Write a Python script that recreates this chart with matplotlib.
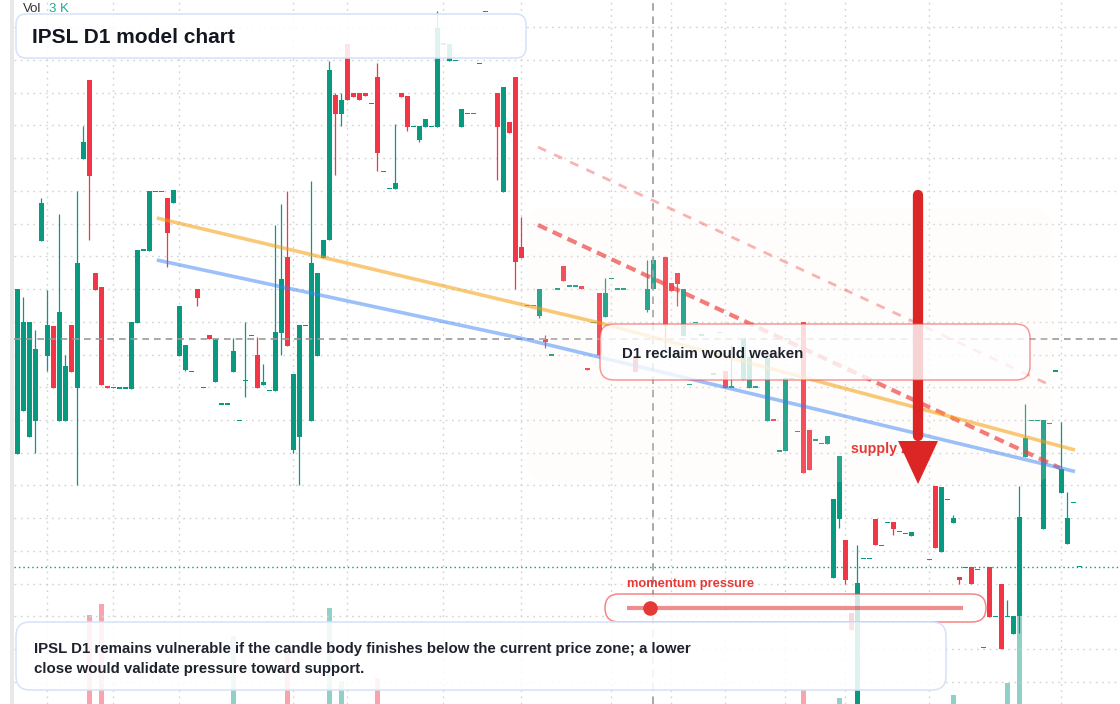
import numpy as np
import matplotlib
matplotlib.use("Agg")
import matplotlib.pyplot as plt
from matplotlib.patches import FancyBboxPatch, Polygon, Rectangle
from matplotlib.transforms import IdentityTransform

plt.rcParams['font.family'] = ['Liberation Sans', 'DejaVu Sans']

nan = np.nan
# daily candles (price units), nan = not shown
opens = [34.63, 38.93, 36.33, 37.93, 55.93, 44.43, 47.4, 37.93, 37.93, 47.5,
         41.23, 64.13, 72.0, 52.7, 51.3, 41.43, 41.35, 41.2, 41.2, 41.13,
         47.73, 55.0, 54.93, 60.87, 60.87, 60.2, 59.73, 44.43, 43.03, 42.87,
         51.1, 41.27, 46.5, 41.83, 39.6, 39.6, 42.83, 37.97, 41.93, 46.47,
         44.5, 41.53, 40.97, 40.93, 46.73, 54.3, 35.0, 36.33, 47.47, 37.93,
         44.43, 54.23, 56.0, 70.5, 68.63, 75.6, 70.67, 70.67, 70.67, 69.67,
         72.3, 62.87, 61.17, 61.13, 70.67, 70.4, 67.37, 66.0, 67.33, 67.37,
         67.33, 75.6, 73.93, 73.97, 67.33, 68.67, 68.67, 73.67, 78.87, nan,
         70.7, 60.83, 67.8, 72.3, 55.33, 49.47, 49.47, 48.4, 46.13, 44.5,
         51.1, 53.4, 51.4, 51.4, 51.4, 43.17, 47.77, 50.67, 48.33, 52.17,
         51.1, 51.1, nan, 44.33, nan, 49.0, 51.07, nan, 54.27, 51.67,
         52.67, 46.4, 41.57, 47.77, 46.5, nan, 42.6, 46.73, 42.9, 41.3,
         nan, 42.0, 41.23, 41.3, nan, 37.93, 38.0, 34.9, 34.93, 42.17,
         36.87, 47.77, 37.0, 36.0, 35.67, 35.63, 22.23, 28.13, 26.0, 18.7,
         8.0, 24.17, 24.17, 28.1, 25.47, 27.77, 27.77, 26.87, 26.67, 26.43,
         nan, nan, 24.07, 31.4, 24.83, 30.07, 27.73, 22.3, 23.27, 23.27,
         23.07, 15.27, 23.27, 18.37, 21.63, 18.37, 16.63, 18.37, 34.33, 37.97,
         37.97, 27.13, 37.67, 42.9, 30.73, 25.6, 29.77, 23.33]
highs = [51.1, 50.3, 47.8, 47.0, 60.2, 51.0, 47.4, 58.6, 44.5, 47.5,
         60.87, 67.4, 72.0, 52.7, 51.3, 41.43, 41.35, 41.2, 41.2, 47.8,
         55.0, 55.0, 60.87, 60.87, 60.87, 60.2, 61.0, 49.4, 45.5, 42.87,
         51.1, 41.27, 46.5, 46.13, 39.6, 39.6, 46.17, 37.97, 47.8, 46.47,
         46.33, 43.6, 40.97, 57.5, 59.6, 60.9, 42.6, 47.47, 47.47, 61.9,
         52.7, 56.0, 73.9, 70.67, 70.67, 75.6, 70.67, 70.67, 70.67, 69.67,
         73.7, 62.87, 61.17, 67.6, 70.67, 70.4, 67.37, 67.37, 68.1, 67.37,
         78.9, 75.6, 75.6, 73.97, 69.1, 68.67, 68.67, 73.67, 78.87, nan,
         70.7, 71.3, 67.8, 72.3, 58.33, 49.47, 49.47, 51.1, 46.5, 44.5,
         51.1, 53.4, 51.4, 51.4, 51.4, 43.17, 47.77, 50.67, 52.17, 52.17,
         51.1, 51.1, nan, 44.33, nan, 54.0, 54.4, nan, 54.27, 51.67,
         52.67, 51.1, 41.57, 47.77, 46.5, nan, 42.6, 46.73, 42.9, 45.5,
         nan, 46.17, 44.33, 41.3, nan, 44.2, 38.0, 34.9, 42.17, 42.17,
         36.87, 47.77, 37.0, 36.0, 35.67, 36.4, 30.1, 34.4, 26.0, 18.7,
         25.5, 24.17, 24.17, 28.1, 25.47, 27.77, 27.77, 26.87, 26.67, 26.8,
         nan, nan, 24.07, 31.4, 31.3, 30.07, 28.5, 22.3, 23.27, 23.27,
         23.07, 15.27, 23.27, 18.37, 21.63, 20.0, 18.4, 31.4, 39.6, 37.97,
         37.97, 37.97, 37.67, 42.9, 37.77, 30.83, 29.77, 23.33]
lows = [34.63, 38.93, 36.33, 34.73, 55.93, 42.93, 41.23, 37.93, 37.93, 42.83,
        31.5, 64.13, 56.0, 51.0, 41.5, 41.23, 41.2, 41.2, 41.2, 41.13,
        47.73, 55.0, 54.93, 60.87, 60.87, 53.33, 59.73, 44.43, 42.93, 42.87,
        49.43, 41.27, 46.13, 41.83, 39.6, 39.6, 42.83, 37.97, 40.33, 46.47,
        41.23, 41.53, 40.97, 40.93, 44.5, 45.4, 34.73, 31.5, 47.47, 37.93,
        44.43, 54.23, 56.0, 62.5, 67.4, 70.0, 70.33, 70.0, 70.4, 69.67,
        62.93, 62.87, 61.17, 61.13, 70.33, 66.93, 67.37, 65.83, 67.33, 67.37,
        67.33, 75.6, 73.93, 73.97, 67.33, 68.67, 68.67, 73.67, 78.87, nan,
        62.0, 60.83, 66.73, 51.1, 54.23, 49.47, 49.47, 48.17, 45.25, 44.5,
        51.1, 51.93, 51.4, 51.4, 51.07, 43.0, 47.77, 44.53, 48.33, 52.17,
        51.1, 51.1, nan, 42.83, nan, 48.77, 51.07, nan, 45.0, 50.93,
        49.43, 46.4, 41.57, 47.77, 46.5, nan, 42.6, 46.73, 41.23, 41.3,
        nan, 42.0, 41.23, 41.3, nan, 37.93, 37.97, 34.9, 34.93, 42.17,
        36.87, 32.73, 33.0, 36.0, 35.67, 35.63, 22.23, 27.23, 21.63, 17.0,
        8.0, 24.17, 24.17, 25.5, 25.47, 27.77, 26.53, 26.87, 26.67, 26.43,
        nan, nan, 24.07, 25.23, 24.83, 30.07, 27.73, 21.63, 23.27, 21.57,
        23.07, 15.27, 18.33, 18.37, 15.07, 18.37, 16.63, 16.73, 34.33, 37.97,
        37.97, 27.13, 37.67, 42.9, 30.73, 25.6, 29.77, 23.33]
closes = [51.1, 47.8, 47.8, 45.1, 59.7, 47.5, 41.23, 48.8, 43.4, 42.83,
          53.7, 65.8, 62.43, 51.0, 41.5, 41.23, 41.2, 41.2, 41.2, 47.8,
          55.0, 55.0, 60.87, 60.87, 60.87, 56.73, 61.0, 49.4, 45.5, 42.87,
          50.23, 41.27, 46.13, 46.13, 39.6, 39.6, 44.9, 37.97, 41.93, 46.47,
          41.23, 41.8, 40.97, 46.8, 52.1, 45.4, 42.6, 47.47, 47.47, 53.7,
          52.7, 56.0, 73.0, 68.63, 70.0, 70.0, 70.33, 70.0, 70.4, 69.67,
          64.73, 62.87, 61.17, 61.7, 70.33, 67.33, 67.37, 67.37, 68.1, 67.37,
          77.23, 75.6, 75.6, 73.97, 69.1, 68.67, 68.67, 73.67, 78.87, nan,
          67.33, 71.3, 66.73, 53.83, 54.23, 49.47, 49.47, 51.1, 45.83, 44.5,
          51.1, 51.93, 51.4, 51.4, 51.07, 43.0, 47.77, 44.53, 50.67, 52.17,
          51.1, 51.1, nan, 42.83, nan, 51.1, 54.0, nan, 47.5, 50.93,
          51.6, 51.1, 41.57, 47.77, 46.5, nan, 42.6, 46.73, 41.23, 41.3,
          nan, 46.17, 44.33, 41.3, nan, 44.2, 37.97, 34.9, 42.17, 42.17,
          36.87, 32.73, 33.0, 36.0, 35.67, 36.4, 30.1, 34.4, 21.97, 17.0,
          21.7, 24.17, 24.17, 25.5, 25.47, 27.77, 27.13, 26.87, 26.67, 26.8,
          nan, nan, 24.07, 25.23, 31.3, 30.07, 28.23, 21.97, 23.27, 21.57,
          23.07, 15.27, 18.33, 18.37, 15.07, 18.37, 18.4, 28.3, 36.23, 37.97,
          37.97, 37.97, 37.67, 42.9, 33.1, 28.17, 29.77, 23.33]

# volume (K) for the bars that reach into view
vol_idx = [12, 14, 36, 45, 52, 54, 60, 131, 137, 140, 156, 165, 167]
vol_k = [2.54, 2.86, 1.94, 1.46, 2.74, 0.66, 0.75, 0.40, 0.17, 2.97, 0.26, 0.61, 2.51]

month_idx = [5, 16, 27, 46, 55, 71, 84, 99, 109, 118, 128, 138, 152, 174]
last_price = 46.15
support_price = 23.33
cross_idx = 106

orange_x = [23.25, 97.12, 176.28]
orange_y = [58.2, 47.7, 35.0]
blue_x = [23.25, 83.78, 176.28]
blue_y = [54.0, 46.2, 32.85]
red_x = [86.78, 173.78]
red_y = [57.5, 33.2]
pink_x = [86.78, 172.45]
pink_y = [65.3, 41.4]
zone_x = [84.95, 172.45]
zone_y = [31.8, 59.2]
arrow_i = 150.12
arrow_top, arrow_base, arrow_tip = 60.5, 35.9, 31.6
momentum_x = [101.62, 157.62]
momentum_y = 19.2
momentum_knob = 105.45

UP = '#089981'
DN = '#f23645'
W, H = 1120, 704

fig = plt.figure(figsize=(W / 100, H / 100), dpi=100)
pos = [14 / W, 0, 1 - 14 / W, 1]
axv = fig.add_axes(pos)
ax = fig.add_axes(pos)
ax.patch.set_visible(False)
for a in (ax, axv):
    a.set_xlim(-0.55, 183.78)
    a.axis('off')
ax.set_ylim(9.6, 80.0)
axv.set_ylim(0, H / 35)

fig.patches.append(Rectangle((10, 0), 4, H, transform=IdentityTransform(),
                             facecolor='#e8e8e8', edgecolor='none'))

# grid
for k in range(22):
    ax.axhline(77.27 - 3.272 * k, color='#d4d4d4', lw=1.0, ls=(0, (1.3, 3.2)), zorder=0.5)
for m in month_idx:
    ax.axvline(m, color='#d4d4d4', lw=1.0, ls=(0, (1.3, 3.2)), zorder=0.5)

# volume
vcol = [UP if closes[i] >= opens[i] else DN for i in vol_idx]
axv.bar(vol_idx, vol_k, width=0.8, color=vcol, alpha=0.45, lw=0)

# candles
o = np.array(opens); h = np.array(highs); l = np.array(lows); c = np.array(closes)
ok = ~np.isnan(o)
xs = np.arange(len(o))[ok]
o, h, l, c = o[ok], h[ok], l[ok], c[ok]
cols = np.where(c >= o, UP, DN)
ax.vlines(xs, l, h, colors=cols, lw=0.9, zorder=2)
bot = np.minimum(o, c)
hgt = np.abs(c - o)
thin = hgt < 0.14
bot = np.where(thin, (o + c) / 2 - 0.07, bot)
hgt = np.where(thin, 0.14, hgt)
ax.bar(xs, hgt, bottom=bot, width=0.8, color=cols, lw=0, zorder=2.5)

# reference lines
ax.axhline(last_price, color='#9a9a9a', lw=1.2, ls=(0, (4, 3)), zorder=3)
ax.axhline(support_price, color=UP, lw=1.0, ls=(0, (1, 2.2)), zorder=3)
ax.axvline(cross_idx, color='#9a9a9a', lw=1.2, ls=(0, (4.5, 3.5)), zorder=3)

# zone
ax.add_patch(FancyBboxPatch((zone_x[0], zone_y[0]), zone_x[1] - zone_x[0], zone_y[1] - zone_y[0],
                            boxstyle="round,pad=0,rounding_size=3.3", mutation_aspect=0.6,
                            facecolor='#fff1e4', alpha=0.14, edgecolor='none', zorder=3.2))

ax.plot(pink_x, pink_y, color='#ef4444', alpha=0.4, lw=2.0, ls=(0, (3.2, 3.2)), zorder=4)
ax.plot(red_x, red_y, color='#ef4444', alpha=0.7, lw=3.0, ls=(0, (2.4, 1.5)), zorder=4)
ax.plot(orange_x, orange_y, color='#f59e0b', alpha=0.55, lw=2.6, solid_capstyle='butt', zorder=4)
ax.plot(blue_x, blue_y, color='#3b82f6', alpha=0.5, lw=2.6, solid_capstyle='butt', zorder=4)

ax.text(138.95, 35.05, 'supply zone', color='#e53935', fontsize=10.3, fontweight='bold',
        va='center', ha='left', zorder=4.5)
ax.plot([arrow_i, arrow_i], [arrow_top, arrow_base + 0.5], color='#dc2626', lw=7.4,
        solid_capstyle='round', zorder=5)
ax.add_patch(Polygon([(arrow_i - 3.33, arrow_base), (arrow_i + 3.33, arrow_base), (arrow_i, arrow_tip)],
                     closed=True, facecolor='#dc2626', edgecolor='none', zorder=5))


def px_box(x0, y0, x1, y1, r, alpha, ec, lw=1.1, z=6):
    p = FancyBboxPatch((x0, H - y1), x1 - x0, y1 - y0, boxstyle=f"round,pad=0,rounding_size={r}",
                       transform=IdentityTransform(), facecolor=(1, 1, 1, alpha),
                       edgecolor=ec, linewidth=lw, zorder=z)
    ax.add_patch(p)


def px_text(x, y, s, **kw):
    # small nudge: matplotlib centres on the full glyph box incl. descenders
    ax.text(x, H - y - 1.5, s, transform=IdentityTransform(), va='center', ha='left', zorder=7, **kw)


# D1 box
px_box(600, 324, 1030, 380, 14, 0.8, (0.94, 0.27, 0.27, 0.55), lw=1.1)
px_text(622, 353, 'D1 reclaim would weaken', fontsize=10.8, fontweight='bold', color='#1e222d')

# momentum pill
px_text(627, 583, 'momentum pressure', fontsize=9.3, fontweight='bold', color='#e53935')
px_box(605, 594, 986, 622, 14, 0.8, (0.94, 0.27, 0.27, 0.65), lw=1.1)
ax.plot(momentum_x, [momentum_y, momentum_y], color='#e03131', alpha=0.55, lw=3.0,
        solid_capstyle='butt', zorder=6.5)
ax.plot([momentum_knob], [momentum_y], 'o', ms=10.5, color='#e53935', mec='none', zorder=6.7)

# bottom note
px_box(16, 622, 946, 690, 14, 0.88, '#d5e2fa', lw=1.1)
px_text(34, 648, 'IPSL D1 remains vulnerable if the candle body finishes below the current price zone; a lower',
        fontsize=10.8, fontweight='bold', color='#1e222d')
px_text(34, 668, 'close would validate pressure toward support.',
        fontsize=10.8, fontweight='bold', color='#1e222d')

# title
px_box(16, 14, 526, 58, 10, 0.88, '#d5e2fa', lw=1.1)
px_text(32, 36, 'IPSL D1 model chart', fontsize=15, fontweight='bold', color='#131722')

px_text(23, 8, 'Vol', fontsize=9.5, color='#333333')
px_text(49, 8, '3 K', fontsize=9.5, color='#26a69a')

fig.savefig('out.png', dpi=100)
